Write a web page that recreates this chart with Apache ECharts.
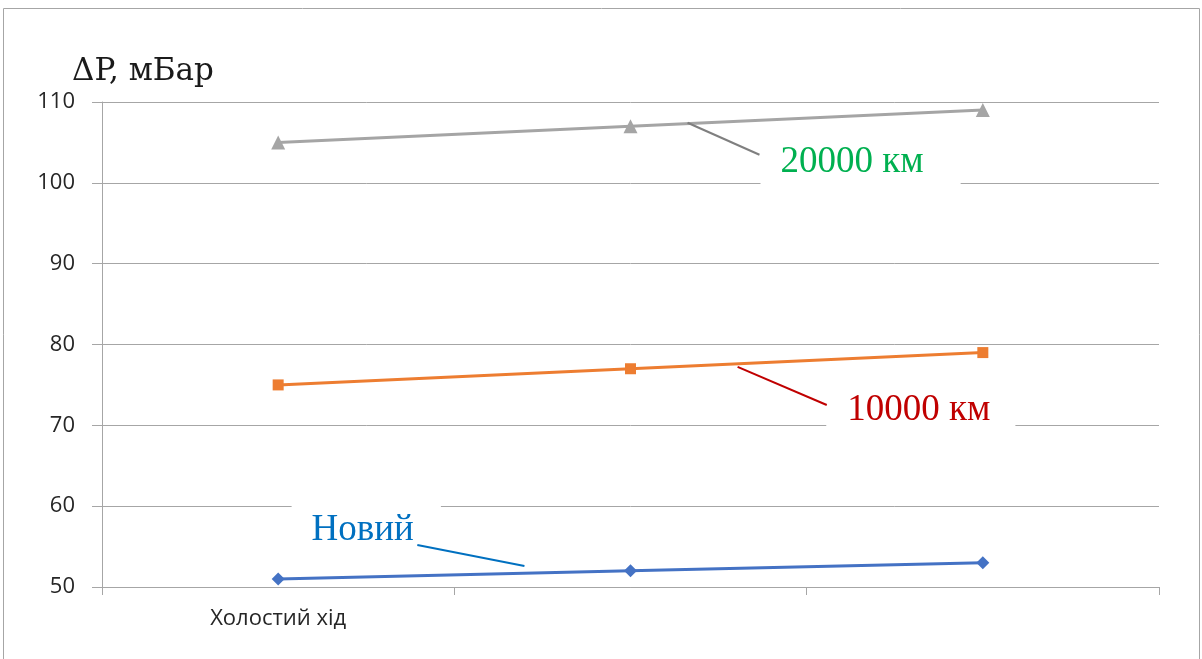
<!DOCTYPE html>
<html>
<head>
<meta charset="utf-8">
<style>
  html, body { margin: 0; padding: 0; background: #ffffff; }
  #chart { width: 1202px; height: 659px; }
</style>
<script src="https://cdn.jsdelivr.net/npm/echarts@6/dist/echarts.min.js"></script>
</head>
<body>
<div id="chart"></div>
<script>
// Pressure drop at idle for three filter states
const categories = ['Холостий хід', '', ''];
const yTicks = { min: 50, max: 110, step: 10 };

const seriesNames = ['Новий', '10000 км', '20000 км'];
const valuesNew = [51, 52, 53];
const values10k = [75, 77, 79];
const values20k = [105, 107, 109];

// Callout labels: text anchor [x, y] and leader line ends, in data units
const calloutNew = { text: 'Новий', at: [0.25, 57.05], leader: [[0.395, 55.2], [0.699, 52.6]] };
const callout10k = { text: '10000 км', at: [1.824, 71.9], leader: [[1.304, 77.23], [1.557, 72.52]] };
const callout20k = { text: '20000 км', at: [1.653, 102.6], leader: [[1.162, 107.43], [1.366, 103.47]] };

const colorNew = '#4472c4';
const color10k = '#ed7d31';
const color20k = '#a5a5a5';

const chart = echarts.init(document.getElementById('chart'));

function dataSeries(name, values, color, symbol, size) {
  return {
    name: name,
    type: 'line',
    xAxisIndex: 0,
    data: values,
    symbol: symbol,
    symbolSize: size,
    lineStyle: { color: color, width: 3 },
    itemStyle: { color: color },
    z: 5
  };
}

function leaderSeries(c, color) {
  return {
    type: 'line',
    xAxisIndex: 1,
    data: c.leader,
    symbol: 'none',
    lineStyle: { color: color, width: 2 },
    silent: true,
    z: 12
  };
}

function labelSeries(c, color, padding) {
  return {
    type: 'scatter',
    xAxisIndex: 1,
    data: [c.at],
    symbolSize: 0,
    silent: true,
    z: 8,
    itemStyle: { opacity: 1 },
    label: {
      show: true,
      position: 'inside',
      formatter: c.text,
      fontFamily: 'Liberation Serif',
      fontSize: 37,
      color: color,
      backgroundColor: '#ffffff',
      padding: padding
    }
  };
}

chart.setOption({
  animation: false,
  backgroundColor: '#ffffff',
  title: {
    text: 'ΔP, мБар',
    left: 67,
    top: 51,
    textStyle: { fontFamily: 'DejaVu Serif', fontSize: 31, fontWeight: 'normal', color: '#1a1a1a' }
  },
  graphic: [{
    type: 'rect',
    shape: { x: 3.5, y: 8.5, width: 1196, height: 700 },
    style: { fill: 'none', stroke: '#a6a6a6', lineWidth: 1 },
    silent: true
  }],
  grid: { left: 102, right: 43, top: 102, bottom: 72 },
  xAxis: [{
    type: 'category',
    data: categories,
    boundaryGap: true,
    axisLine: { show: true, onZero: false, lineStyle: { color: '#a6a6a6', width: 1 } },
    axisTick: { show: true, length: 8, alignWithLabel: false, lineStyle: { color: '#a6a6a6' } },
    axisLabel: { margin: 21, fontFamily: 'Open Sans', fontSize: 22, color: '#262626', interval: 0 },
    splitLine: { show: false }
  }, {
    type: 'value',
    min: -0.5,
    max: 2.5,
    show: false
  }],
  yAxis: {
    type: 'value',
    min: yTicks.min,
    max: yTicks.max,
    interval: yTicks.step,
    axisLine: { show: true, onZero: false, lineStyle: { color: '#a6a6a6', width: 1 } },
    axisTick: { show: true, length: 10, lineStyle: { color: '#a6a6a6' } },
    axisLabel: { margin: 27, fontFamily: 'Open Sans', fontSize: 22, color: '#262626' },
    splitLine: { show: true, lineStyle: { color: '#a6a6a6', width: 1 } }
  },
  series: [
    dataSeries(seriesNames[0], valuesNew, colorNew, 'diamond', 13),
    dataSeries(seriesNames[1], values10k, color10k, 'rect', 11),
    dataSeries(seriesNames[2], values20k, color20k, 'triangle', 14),
    labelSeries(calloutNew, '#0070c0', [12, 27, 4, 20]),
    labelSeries(callout10k, '#c00000', [8, 25, 8, 21]),
    labelSeries(callout20k, '#00b050', [8, 37, 8, 20]),
    leaderSeries(calloutNew, '#0070c0'),
    leaderSeries(callout10k, '#c00000'),
    leaderSeries(callout20k, '#7f7f7f')
  ]
});
</script>
</body>
</html>
